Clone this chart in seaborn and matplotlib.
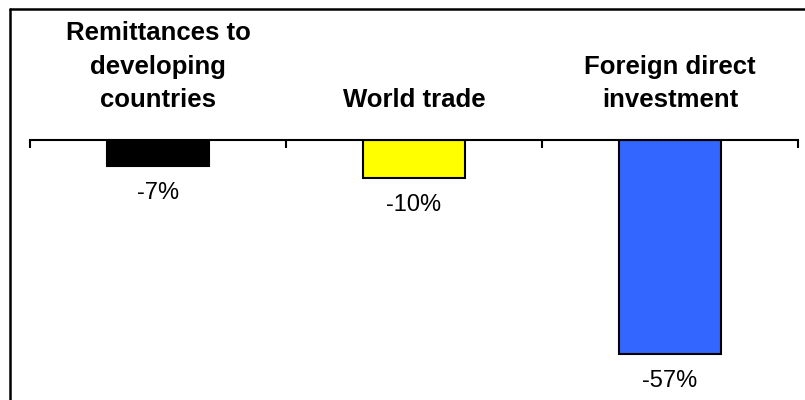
import matplotlib
matplotlib.use("Agg")
import matplotlib.pyplot as plt
import seaborn as sns
from matplotlib.lines import Line2D

# data
categories = ["Remittances to\ndeveloping\ncountries", "World trade", "Foreign direct\ninvestment"]
values = [-7, -10, -57]
value_labels = ["-7%", "-10%", "-57%"]
bar_colors = ["#000000", "#FFFF00", "#3366FF"]

sns.set_theme(style="white")
plt.rcParams['font.family'] = ['Liberation Sans', 'DejaVu Sans']
plt.rcParams['text.color'] = 'black'

fig = plt.figure(figsize=(8.05, 4.0), dpi=100)
ax = fig.add_axes([30 / 805, 0, 768 / 805, 260 / 400])

sns.barplot(x=categories, y=values, hue=categories, palette=bar_colors,
            legend=False, width=0.4, edgecolor="black", linewidth=1.5,
            saturation=1, ax=ax)

ax.set_xlim(-0.5, 2.5)
ax.set_ylim(-69.3, 0)

# only the zero line on top, with ticks between categories
for s in ["left", "right", "bottom"]:
    ax.spines[s].set_visible(False)
ax.spines["top"].set_color("black")
ax.spines["top"].set_linewidth(1.5)
ax.set_yticks([])
ax.xaxis.set_ticks_position("top")
ax.set_xticks([-0.5, 0.5, 1.5, 2.5])
ax.set_xticklabels([])
ax.tick_params(axis="x", direction="in", length=6, width=1.5, color="black")
ax.set_xlabel("")
ax.set_ylabel("")

# category titles above the axis
for i, lab in enumerate(categories):
    ax.annotate(lab, xy=(i, 1), xycoords=("data", "axes fraction"),
                xytext=(0, 20), textcoords="offset points",
                ha="center", va="bottom", fontsize=18.5, fontweight="bold",
                linespacing=1.5, annotation_clip=False)

# value labels under bars
for i, (v, lab) in enumerate(zip(values, value_labels)):
    ax.annotate(lab, xy=(i, v), xytext=(0, -19.5), textcoords="offset points",
                ha="center", va="center", fontsize=17)

# frame lines on top and left
fig.add_artist(Line2D([9.5 / 805, 1], [1 - 8.5 / 400, 1 - 8.5 / 400], color="black", linewidth=1.8))
fig.add_artist(Line2D([9.5 / 805, 9.5 / 805], [0, 1 - 8.5 / 400], color="black", linewidth=1.8))

fig.savefig("out.png", dpi=100)
